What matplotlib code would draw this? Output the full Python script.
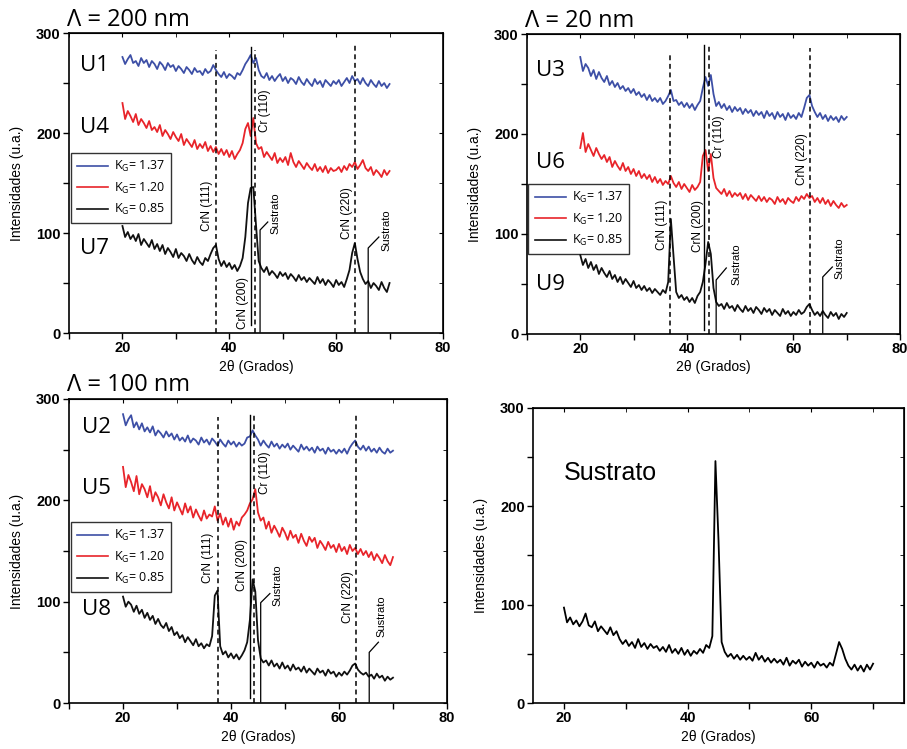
import numpy as np
import matplotlib
matplotlib.use("Agg")
import matplotlib.pyplot as plt
from matplotlib.ticker import MultipleLocator
from matplotlib.lines import Line2D
from matplotlib.font_manager import FontProperties

plt.rcParams["mathtext.fontset"] = "custom"
plt.rcParams["mathtext.rm"] = "Open Sans"

# ---------------- data (2theta grid, intensities) ----------------
two_theta = np.arange(20.0, 70.01, 0.5)

# Lambda = 200 nm
U1 = [276, 269, 274, 278, 270, 272, 267, 275, 270, 273,
      266, 272, 269, 264, 271, 268, 263, 270, 266, 268,
      262, 267, 264, 260, 266, 263, 259, 265, 261, 262,
      258, 264, 260, 262, 268, 263, 259, 256, 261, 255,
      259, 257, 254, 260, 258, 263, 269, 273, 278, 270,
      275, 263, 257, 255, 260, 253, 257, 252, 256, 259,
      252, 256, 250, 255, 253, 249, 256, 251, 248, 254,
      250, 247, 254, 249, 252, 246, 253, 250, 247, 252,
      249, 253, 247, 251, 255, 250, 257, 252, 254, 249,
      255, 250, 247, 253, 249, 246, 252, 247, 250, 245, 249]
U4 = [230, 214, 222, 217, 211, 219, 208, 214, 210, 205,
      212, 203, 206, 201, 208, 197, 203, 199, 194, 201,
      196, 192, 199, 188, 194, 190, 186, 193, 184, 189,
      185, 191, 182, 187, 181, 186, 179, 184, 178, 183,
      176, 182, 174, 179, 183, 190, 204, 210, 197, 215,
      190, 184, 186, 176, 181, 177, 173, 180, 170, 175,
      171, 176, 168, 180, 171, 166, 172, 168, 164, 170,
      166, 163, 169, 162, 166, 161, 167, 160, 165, 162,
      163, 166, 161, 167, 163, 169, 166, 171, 164, 168,
      173, 165, 162, 166, 158, 163, 160, 156, 163, 158, 162]
U7 = [107, 96, 101, 94, 98, 92, 99, 88, 94, 90,
      86, 93, 84, 89, 82, 88, 79, 85, 81, 76,
      84, 75, 80, 77, 72, 79, 73, 69, 76, 71,
      68, 75, 72, 79, 85, 88, 74, 67, 72, 66,
      70, 64, 68, 62, 67, 75, 96, 130, 145, 146,
      108, 72, 65, 61, 66, 58, 62, 59, 55, 61,
      57, 60, 54, 59, 56, 52, 58, 53, 56, 51,
      55, 52, 49, 56, 50, 54, 48, 53, 50, 46,
      53, 48, 51, 46, 54, 63, 80, 90, 74, 61,
      54, 49, 52, 45, 50, 47, 43, 51, 45, 41, 50]

# Lambda = 20 nm
U3 = [277, 263, 270, 266, 258, 264, 255, 262, 256, 252,
      258, 249, 253, 247, 251, 245, 248, 243, 246, 241,
      245, 239, 242, 237, 240, 234, 239, 233, 236, 232,
      236, 230, 233, 238, 244, 233, 234, 229, 232, 227,
      231, 226, 230, 224, 229, 233, 246, 257, 248, 259,
      240, 228, 232, 226, 230, 224, 228, 222, 227, 223,
      226, 220, 225, 221, 224, 218, 223, 219, 222, 216,
      223, 218, 221, 215, 222, 217, 220, 214, 221, 216,
      219, 215, 221, 217, 226, 236, 239, 228, 222, 217,
      221, 215, 219, 213, 218, 214, 217, 212, 218, 214, 217]
U6 = [186, 201, 182, 190, 184, 178, 186, 180, 175, 179,
      172, 177, 167, 173, 168, 164, 171, 163, 167, 160,
      165, 158, 163, 156, 160, 155, 159, 152, 157, 151,
      155, 149, 153, 150, 158, 151, 147, 152, 145, 150,
      146, 142, 149, 144, 147, 152, 178, 184, 163, 180,
      156, 146, 143, 140, 145, 138, 143, 137, 141, 138,
      141, 135, 140, 134, 139, 136, 133, 138, 133, 137,
      132, 136, 134, 130, 137, 132, 135, 130, 136, 133,
      131, 137, 133, 138, 135, 140, 136, 138, 132, 136,
      131, 136, 130, 134, 128, 133, 129, 126, 131, 127, 129]
U9 = [79, 69, 75, 66, 72, 64, 69, 60, 66, 61,
      57, 63, 55, 59, 52, 57, 50, 55, 51, 47,
      53, 46, 49, 44, 48, 43, 46, 41, 45, 42,
      39, 44, 41, 52, 115, 78, 42, 36, 39, 34,
      37, 32, 36, 31, 38, 42, 52, 70, 92, 80,
      46, 32, 28, 30, 25, 31, 26, 28, 23, 29,
      25, 22, 28, 23, 26, 21, 27, 24, 20, 26,
      22, 25, 19, 24, 21, 18, 25, 20, 23, 18,
      22, 19, 24, 20, 22, 27, 30, 24, 19, 22,
      18, 23, 19, 16, 22, 18, 21, 15, 20, 17, 21]

# Lambda = 100 nm
U2 = [285, 274, 280, 284, 272, 277, 270, 276, 268, 272,
      267, 273, 264, 269, 266, 262, 268, 263, 266, 260,
      265, 259, 262, 258, 264, 257, 261, 259, 255, 262,
      257, 260, 255, 261, 258, 254, 260, 256, 253, 259,
      255, 258, 253, 257, 254, 256, 262, 263, 269, 264,
      260, 254, 259, 255, 252, 258, 253, 256, 251, 255,
      252, 256, 250, 254, 251, 248, 255, 250, 253, 249,
      252, 247, 253, 249, 251, 246, 252, 248, 250, 246,
      250, 247, 251, 246, 252, 256, 259, 253, 250, 254,
      249, 253, 248, 251, 247, 252, 248, 246, 251, 247, 249]
U5 = [233, 213, 225, 218, 209, 224, 206, 216, 211, 203,
      214, 199, 208, 203, 195, 206, 198, 192, 203, 190,
      198, 192, 186, 197, 188, 194, 183, 191, 185, 180,
      190, 182, 186, 184, 194, 180, 187, 176, 183, 174,
      182, 171, 179, 175, 183, 186, 190, 197, 201, 211,
      188, 180, 183, 172, 179, 168, 175, 170, 164, 173,
      168, 161, 170, 163, 166, 158, 167, 160, 155, 164,
      159, 163, 153, 160, 156, 151, 159, 153, 156, 149,
      157, 150, 154, 147, 156, 150, 153, 147, 152, 146,
      150, 144, 149, 141, 147, 143, 138, 146, 140, 136, 144]
U8 = [105, 95, 100, 97, 90, 96, 88, 92, 84, 89,
      82, 86, 78, 83, 77, 74, 79, 71, 75, 67,
      70, 64, 67, 60, 65, 61, 57, 63, 56, 59,
      54, 58, 56, 66, 106, 111, 56, 48, 51, 45,
      49, 44, 48, 43, 47, 52, 60, 82, 122, 110,
      62, 44, 40, 42, 37, 42, 36, 39, 34, 40,
      34, 37, 32, 38, 33, 35, 31, 36, 30, 34,
      31, 28, 34, 30, 32, 27, 33, 29, 31, 26,
      30, 27, 31, 28, 32, 37, 39, 33, 30, 28,
      30, 26, 28, 24, 29, 25, 27, 22, 26, 23, 25]

# Substrate
SUS = [97, 82, 87, 80, 84, 78, 83, 91, 79, 77,
       83, 73, 78, 74, 70, 77, 69, 73, 65, 60,
       64, 58, 62, 56, 65, 57, 61, 55, 60, 56,
       58, 53, 57, 52, 59, 51, 55, 50, 56, 49,
       54, 48, 53, 50, 55, 51, 59, 56, 68, 246,
       165, 62, 52, 47, 50, 45, 49, 44, 48, 44,
       47, 43, 51, 44, 48, 42, 46, 41, 45, 41,
       44, 39, 46, 38, 43, 40, 44, 37, 42, 38,
       41, 36, 42, 38, 40, 36, 41, 38, 50, 62,
       55, 45, 38, 34, 39, 33, 38, 32, 39, 34, 40]

legend_labels = ["K$_\\mathregular{G}$= 1.37", "K$_\\mathregular{G}$= 1.20", "K$_\\mathregular{G}$= 0.85"]
COLORS = ["#3d4fa6", "#e8242a", "#111111"]

# ---------------- figure ----------------
fig = plt.figure(figsize=(9.07, 7.49), dpi=100)
TICKFONT = dict(family="Liberation Sans", weight="bold", size=10.5)
LABFONT = dict(family="Liberation Sans", size=10)
LW = 1.3


def style_axes(ax, xlim, xmajor, xminor):
    ax.set_xlim(*xlim)
    ax.set_ylim(0, 300)
    ax.xaxis.set_major_locator(MultipleLocator(xmajor))
    ax.xaxis.set_minor_locator(MultipleLocator(xminor))
    ax.yaxis.set_major_locator(MultipleLocator(100))
    ax.yaxis.set_minor_locator(MultipleLocator(50))
    ax.tick_params(which="both", direction="out", length=4, width=1, pad=2)
    for lab in ax.get_xticklabels() + ax.get_yticklabels():
        lab.set_fontproperties(FontProperties(**TICKFONT))
    for s in ax.spines.values():
        s.set_linewidth(1.2)
    top = ax.secondary_xaxis("top")
    top.xaxis.set_major_locator(MultipleLocator(xmajor))
    top.xaxis.set_minor_locator(MultipleLocator(xminor))
    top.tick_params(which="both", direction="in", length=3, labeltop=False)
    right = ax.secondary_yaxis("right")
    right.yaxis.set_major_locator(MultipleLocator(100))
    right.yaxis.set_minor_locator(MultipleLocator(50))
    right.tick_params(which="both", direction="in", length=3, labelright=False)
    ax.set_xlabel("2θ (Grados)", labelpad=3, **LABFONT)
    ax.set_ylabel("Intensidades (u.a.)", labelpad=9, **LABFONT)


def annotate(ax, ref):
    dash = dict(color="black", lw=1.1, linestyle=(0, (3.2, 2.4)))
    solid = dict(color="black", lw=1.0)
    ax.plot([ref["c111"], ref["c111"]], [0, ref["top111"]], **dash)
    ax.plot([ref["c200"], ref["c200"]], [ref["bot200"], ref["top200"]], **solid)
    ax.plot([ref["cr110"], ref["cr110"]], [0, ref["top110"]], **dash)
    ax.plot([ref["c220"], ref["c220"]], [0, ref["top220"]], **dash)
    for sx, stop, lx, ly in ref["sus_lines"]:
        ax.plot([sx, sx, lx], [1, stop, ly], color="black", lw=0.9)
    tk = dict(rotation=90, ha="center", va="center", family="Liberation Sans", fontsize=8.5)
    for txt, (tx, ty) in ref["labels"].items():
        ax.text(tx, ty, txt, **tk)
    for tx, ty in ref["sus_text"]:
        ax.text(tx, ty, "Sustrato", rotation=90, ha="center", va="center",
                family="Liberation Sans", fontsize=8)


def legend(ax, top):
    handles = [Line2D([], [], color=c, lw=1.2) for c in COLORS]
    leg = ax.legend(handles, legend_labels, loc="upper left", bbox_to_anchor=(0.004, top),
                    prop=dict(family="Open Sans", size=9), frameon=True, fancybox=False,
                    edgecolor="black", handlelength=2.5, handletextpad=0.5,
                    labelspacing=0.5, borderpad=0.5, borderaxespad=0)
    leg.get_frame().set_linewidth(1.0)


def ulabel(ax, x, y, s):
    ax.text(x, y, s, ha="center", va="center", family="Open Sans", fontsize=16)


panels = [
    dict(pos=[0.0761, 0.5554, 0.4123, 0.4005], series=[U1, U4, U7], title="Λ = 200 nm",
         ulabels=[("U1", 268), ("U4", 206), ("U7", 85)], ux=14.7, legtop=0.60,
         ref=dict(c111=37.45, top111=283, c200=44.05, bot200=8, top200=286, cr110=44.87, top110=283,
                  c220=63.6, top220=290,
                  sus_lines=[(45.76, 103, 47.2, 111), (66.0, 85, 68.0, 96)],
                  labels={"CrN (111)": (35.9, 127), "CrN (200)": (42.6, 30), "Cr (110)": (46.6, 222),
                          "CrN (220)": (62.0, 120)},
                  sus_text=[(48.6, 120), (69.4, 103)])),
    dict(pos=[0.5810, 0.5541, 0.4113, 0.4005], series=[U3, U6, U9], title="Λ = 20 nm",
         ulabels=[("U3", 264), ("U6", 171), ("U9", 49)], ux=14.4, legtop=0.50,
         ref=dict(c111=36.9, top111=281, c200=43.3, bot200=4, top200=289, cr110=44.1, top110=289,
                  c220=63.2, top220=286,
                  sus_lines=[(45.5, 54, 47.4, 66), (65.5, 57, 67.3, 67)],
                  labels={"CrN (111)": (35.4, 109), "CrN (200)": (42.0, 108), "Cr (110)": (46.1, 197),
                          "CrN (220)": (61.7, 175)},
                  sus_text=[(49.4, 70), (68.6, 76)])),
    dict(pos=[0.0761, 0.0614, 0.4167, 0.4059], series=[U2, U5, U8], title="Λ = 100 nm",
         ulabels=[("U2", 272), ("U5", 212), ("U8", 92)], ux=15.0, legtop=0.595,
         ref=dict(c111=37.65, top111=282, c200=43.6, bot200=5, top200=284, cr110=44.3, top110=284,
                  c220=63.1, top220=284,
                  sus_lines=[(45.5, 99, 47.2, 108), (65.6, 50, 67.3, 60)],
                  labels={"CrN (111)": (35.8, 143), "CrN (200)": (42.0, 136), "Cr (110)": (46.3, 227),
                          "CrN (220)": (61.7, 105)},
                  sus_text=[(48.6, 116), (67.9, 86)])),
]

for p in panels:
    ax = fig.add_axes(p["pos"])
    for y, c in zip(p["series"], COLORS):
        ax.plot(two_theta, y, color=c, lw=LW)
    annotate(ax, p["ref"])
    style_axes(ax, (10, 80), 20, 10)
    legend(ax, p["legtop"])
    for s, yy in p["ulabels"]:
        ulabel(ax, p["ux"], yy, s)
    ax.text(-0.005, 1.045, p["title"], transform=ax.transAxes, ha="left", va="center",
            family="Open Sans", fontsize=17)

ax4 = fig.add_axes([0.5877, 0.0614, 0.4090, 0.3939])
ax4.plot(two_theta, SUS, color="black", lw=LW)
style_axes(ax4, (15, 75), 20, 10)
ax4.text(20, 234, "Sustrato", ha="left", va="center", family="Liberation Sans", fontsize=18)

fig.savefig("out.png", dpi=100)
